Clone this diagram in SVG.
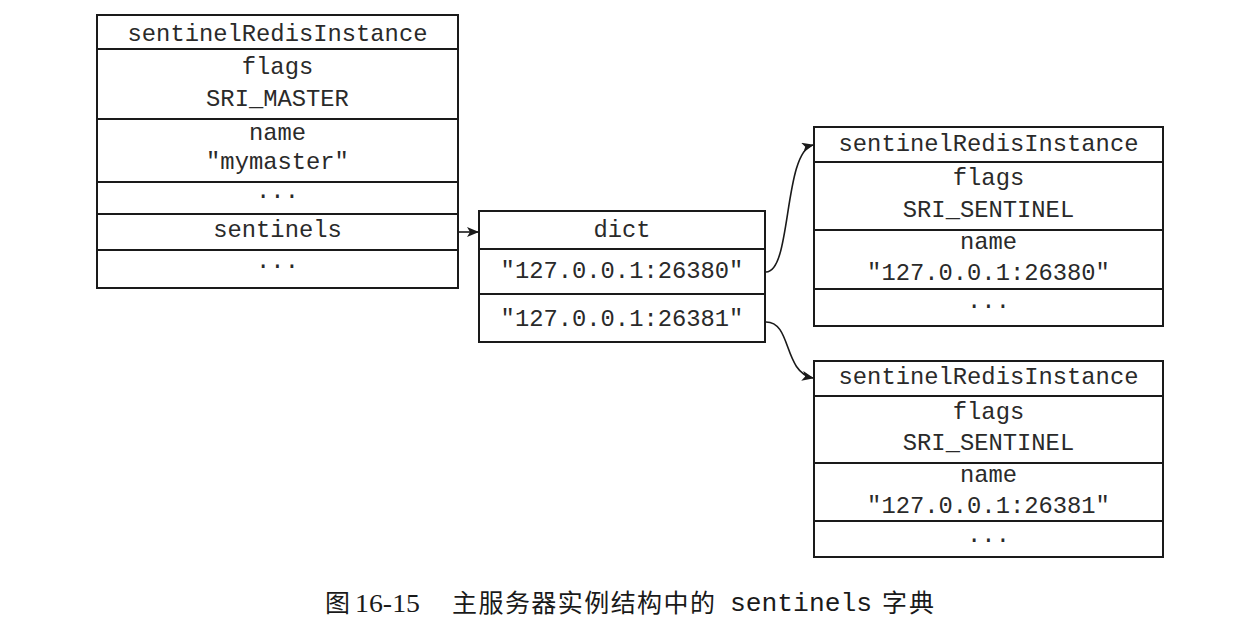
<svg xmlns="http://www.w3.org/2000/svg" width="1260" height="639" viewBox="0 0 1260 639">
<style>
.box{fill:#fff;stroke:#1a1a1a;stroke-width:2}
.ln{stroke:#1a1a1a;stroke-width:2}
.t{font-family:"Liberation Mono","Courier New",monospace;font-size:23.8px;fill:#2a2a2a;text-anchor:middle}
.c{stroke:#1a1a1a;stroke-width:1.6;fill:none;marker-end:url(#ah)}
.cap{font-size:25px;fill:#1a1a1a}
</style>
<defs>
<marker id="ah" markerWidth="12" markerHeight="10" refX="11" refY="5" orient="auto" markerUnits="userSpaceOnUse">
<path d="M0,0 L12,5 L0,10 L3,5 Z" fill="#1a1a1a"/>
</marker>
</defs>
<rect width="1260" height="639" fill="#fff"/>

<g id="master">
<rect class="box" x="97" y="15" width="361" height="273"/>
<line class="ln" x1="97" y1="49" x2="458" y2="49"/>
<line class="ln" x1="97" y1="119" x2="458" y2="119"/>
<line class="ln" x1="97" y1="182" x2="458" y2="182"/>
<line class="ln" x1="97" y1="214" x2="458" y2="214"/>
<line class="ln" x1="97" y1="250" x2="458" y2="250"/>
<text class="t" x="277.5" y="41">sentinelRedisInstance</text>
<text class="t" x="277.5" y="74">flags</text>
<text class="t" x="277.5" y="106">SRI_MASTER</text>
<text class="t" x="277.5" y="140">name</text>
<text class="t" x="277.5" y="169">"mymaster"</text>
<text class="t" x="277.5" y="198">...</text>
<text class="t" x="277.5" y="237">sentinels</text>
<text class="t" x="277.5" y="268">...</text>
</g>

<g id="dict">
<rect class="box" x="479" y="211" width="286" height="131"/>
<line class="ln" x1="479" y1="249" x2="765" y2="249"/>
<line class="ln" x1="479" y1="294" x2="765" y2="294"/>
<text class="t" x="622" y="237">dict</text>
<text class="t" x="622" y="278">"127.0.0.1:26380"</text>
<text class="t" x="622" y="326">"127.0.0.1:26381"</text>
</g>

<g id="sentinel1">
<rect class="box" x="814" y="127" width="349" height="199"/>
<line class="ln" x1="814" y1="162" x2="1163" y2="162"/>
<line class="ln" x1="814" y1="230" x2="1163" y2="230"/>
<line class="ln" x1="814" y1="289" x2="1163" y2="289"/>
<text class="t" x="988.5" y="151">sentinelRedisInstance</text>
<text class="t" x="988.5" y="185">flags</text>
<text class="t" x="988.5" y="217">SRI_SENTINEL</text>
<text class="t" x="988.5" y="249">name</text>
<text class="t" x="988.5" y="280">"127.0.0.1:26380"</text>
<text class="t" x="988.5" y="308">...</text>
</g>

<g id="sentinel2">
<rect class="box" x="814" y="361" width="349" height="196"/>
<line class="ln" x1="814" y1="396" x2="1163" y2="396"/>
<line class="ln" x1="814" y1="463" x2="1163" y2="463"/>
<line class="ln" x1="814" y1="521" x2="1163" y2="521"/>
<text class="t" x="988.5" y="384">sentinelRedisInstance</text>
<text class="t" x="988.5" y="419">flags</text>
<text class="t" x="988.5" y="450">SRI_SENTINEL</text>
<text class="t" x="988.5" y="482">name</text>
<text class="t" x="988.5" y="513">"127.0.0.1:26381"</text>
<text class="t" x="988.5" y="542">...</text>
</g>

<g id="connectors">
<path class="c" d="M459,232 L478,232"/>
<path class="c" d="M766,272 C792,272 783,152 813,145"/>
<path class="c" d="M766,322 C792,322 783,372 813,378"/>
</g>

<g id="caption">
<text class="cap" x="325" y="612" font-family="'Noto Sans CJK SC',sans-serif">图</text>
<text class="cap" x="355" y="612" font-family="'Liberation Serif',serif" textLength="65" lengthAdjust="spacingAndGlyphs">16-15</text>
<text class="cap" x="452" y="612" font-family="'Noto Sans CJK SC',sans-serif" textLength="263">主服务器实例结构中的</text>
<text class="cap" x="730" y="611" font-family="'Liberation Mono',monospace" textLength="142" lengthAdjust="spacingAndGlyphs">sentinels</text>
<text class="cap" x="882" y="612" font-family="'Noto Sans CJK SC',sans-serif" textLength="52">字典</text>
</g>
</svg>
